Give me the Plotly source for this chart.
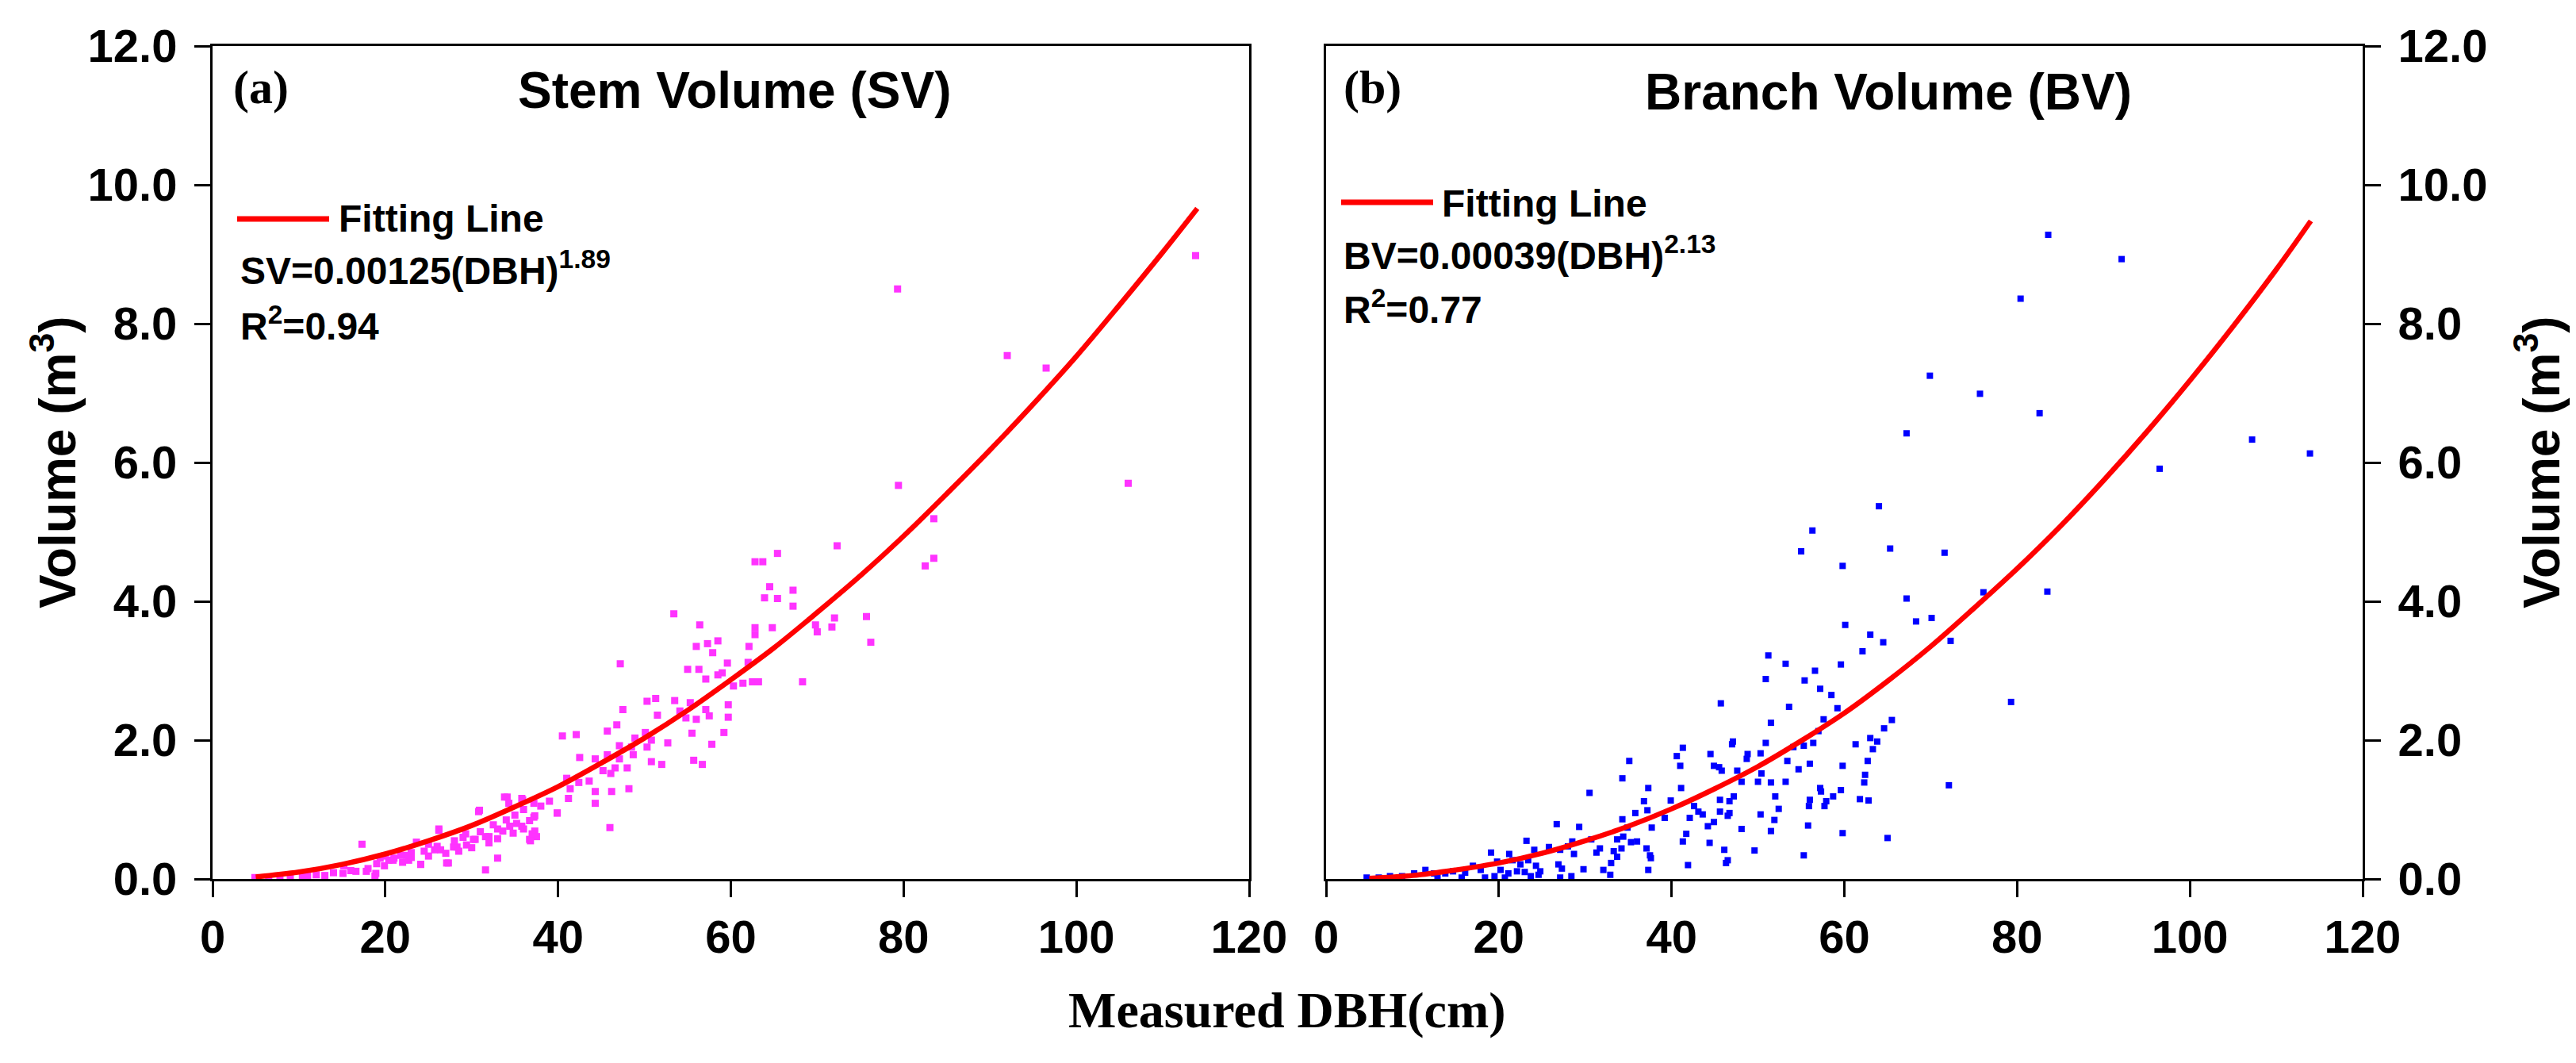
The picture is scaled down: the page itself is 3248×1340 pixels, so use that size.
import plotly.graph_objects as go

W, H = 3248, 1340

# ---------------- data ----------------
sv_dbh = [4.9, 7.8, 10.4, 13.0, 15.1, 17.8, 18.8, 19.9, 20.9, 22.5, 24.1, 25.7, 26.2, 27.3, 28.3,
          29.4, 30.9, 30.4, 32.0, 33.6, 34.1, 35.2, 35.9, 36.7, 37.3, 37.3, 36.7, 39.9,
          79.4, 83.5, 72.3, 83.5, 82.5, 65.4, 62.8, 63.7, 64.5, 67.2, 63.9, 65.4, 67.2, 53.4, 56.4,
          62.8, 64.8, 62.8, 69.8, 70.0, 72.0, 71.7, 75.7, 76.2, 56.0, 57.3, 58.5, 57.9, 62.1, 59.6,
          62.0, 47.2, 55.0, 56.3, 59.0, 58.5, 57.1, 61.4, 62.5, 63.2, 60.3, 68.3, 50.3, 51.3, 53.5,
          47.5, 55.3, 59.7, 51.5, 54.1, 54.8, 56.0, 57.1, 57.5, 59.7, 46.8, 45.7, 40.5, 42.1, 50.1,
          55.5, 59.2, 48.9, 50.8, 52.7, 57.8, 47.1, 48.5, 50.3, 48.7, 42.5, 44.3, 45.7, 47.1, 50.8,
          52.0, 55.7, 56.7, 48.0, 45.2, 46.1, 46.6, 41.0, 42.4, 43.6, 41.4, 44.3, 46.2, 48.2, 41.2,
          44.3, 33.8, 35.8, 34.3, 37.2, 30.8, 39.9, 37.2, 26.2, 46.0, 33.0, 34.4, 35.8, 37.0, 37.5,
          36.8, 29.3, 30.2, 31.6, 23.6, 25.0, 26.4, 27.9, 17.3, 33.0, 24.1, 27.1, 31.6, 19.4, 20.4,
          21.8, 22.7, 15.2, 16.6, 18.0, 18.9,
          79.3, 92.0, 96.5, 106.0, 113.8,
          21.0, 23.0, 24.5, 26.0, 28.0, 29.0, 31.0, 32.5, 34.0, 35.0, 36.0, 38.0, 39.0, 12.0, 14.0,
          16.0, 9.0, 6.5, 11.0, 19.0, 20.0, 22.0, 23.0, 25.0, 27.0, 28.5, 30.0, 32.0, 33.0, 34.8, 36.0]
sv_vol = [0.02, 0.03, 0.03, 0.05, 0.08, 0.11, 0.04, 0.19, 0.27, 0.34, 0.21, 0.42, 0.70, 0.23, 0.46,
          0.49, 0.99, 0.57, 0.61, 0.69, 1.18, 0.80, 1.14, 0.84, 0.91, 0.69, 0.57, 0.95,
          5.67, 5.19, 4.80, 4.62, 4.51, 4.69, 4.57, 4.57, 4.21, 4.16, 4.05, 4.04, 3.93, 3.82, 3.66,
          3.62, 3.62, 3.52, 3.66, 3.56, 3.76, 3.63, 3.78, 3.41, 3.35, 3.39, 3.43, 3.26, 3.35, 3.11,
          3.12, 3.10, 3.02, 3.02, 2.97, 2.94, 2.88, 2.82, 2.84, 2.84, 2.78, 2.84, 2.56, 2.60, 2.57,
          2.44, 2.54, 2.51, 2.36, 2.42, 2.32, 2.30, 2.44, 2.35, 2.33, 2.22, 2.13, 2.06, 2.08, 2.11,
          2.10, 2.11, 2.03, 2.00, 1.96, 1.94, 1.92, 1.90, 1.90, 1.79, 1.75, 1.73, 1.79, 1.73, 1.69,
          1.65, 1.71, 1.65, 1.60, 1.56, 1.52, 1.60, 1.45, 1.39, 1.41, 1.30, 1.26, 1.26, 1.30, 1.16,
          1.09, 1.18, 1.16, 1.09, 1.09, 0.97, 0.95, 0.89, 0.72, 0.74, 0.72, 0.76, 0.76, 0.65, 0.61,
          0.55, 0.65, 0.57, 0.61, 0.53, 0.50, 0.42, 0.46, 0.50, 0.30, 0.21, 0.23, 0.13, 0.30, 0.27,
          0.34, 0.27, 0.19, 0.11, 0.15, 0.08,
          8.50, 7.54, 7.36, 5.70, 8.98,
          0.30, 0.38, 0.40, 0.47, 0.55, 0.60, 0.68, 0.78, 0.85, 0.92, 1.00, 1.05, 1.12, 0.06, 0.09,
          0.12, 0.04, 0.02, 0.05, 0.22, 0.33, 0.24, 0.31, 0.33, 0.37, 0.40, 0.45, 0.52, 0.58, 0.66, 0.72]

bv_dbh = [59.8, 67.2, 68.3, 70.1, 60.1, 63.0, 64.5, 72.3, 62.1, 51.2, 53.2, 59.6, 56.6, 50.9, 55.4,
          57.2, 58.5, 45.7, 53.6, 59.2, 57.6, 51.5, 65.5, 64.6, 57.0, 47.0, 47.1, 50.9, 56.4, 55.3,
          54.1, 61.3, 63.0, 63.8, 63.3, 41.3, 40.6, 44.5, 48.8, 48.7, 50.3, 35.1, 41.0, 44.9, 45.8,
          45.5, 47.6, 53.4, 54.7, 56.0, 59.8, 62.7, 50.4, 34.3, 48.1, 50.0, 51.5, 53.2, 62.4, 62.3,
          37.3, 41.1, 30.5, 57.2, 57.3, 59.6, 58.7, 36.8, 39.9, 45.6, 46.7, 47.2, 52.0, 56.0, 55.9,
          57.9, 57.7, 61.8, 62.8, 72.1, 35.8, 37.2, 42.6, 43.1, 43.6, 45.6, 46.5, 46.7, 50.3, 52.4,
          42.1, 39.2, 34.3, 51.9, 26.7, 29.3, 34.9, 37.7, 44.2, 44.9, 48.1, 55.8, 51.5, 41.7, 41.3,
          59.8, 65.0, 23.2, 28.5, 30.7, 33.7, 34.4, 35.3, 36.0, 44.4, 46.1, 49.6, 25.8, 19.1, 21.2,
          24.1, 27.1, 28.0, 28.7, 31.7, 31.3, 33.3, 33.7, 34.2, 37.1, 37.5, 37.6, 55.3, 46.3, 46.5,
          41.9, 37.3, 33.0, 32.1, 29.8, 27.3, 26.9, 28.4, 27.1, 32.9, 19.8, 21.6, 22.5, 23.4, 24.3,
          24.8, 20.2, 21.1, 22.1, 23.0, 23.7, 24.6, 17.0, 17.9, 16.1, 14.7, 13.8, 12.5, 11.5, 10.2,
          8.8, 7.4, 6.1, 4.7, 19.5, 20.7, 18.4, 15.7, 12.9,
          83.6, 92.1, 80.4, 69.9, 75.7, 82.6, 67.2, 107.2, 113.9, 96.5, 64.0, 56.3, 55.0, 65.3, 71.6,
          76.1, 83.5, 79.3]
bv_vol = [4.51, 4.04, 3.71, 3.76, 3.66, 3.52, 3.41, 3.43, 3.28, 3.22, 3.10, 3.09, 3.00, 2.88, 2.86,
          2.74, 2.65, 2.53, 2.48, 2.46, 2.30, 2.25, 2.29, 2.17, 2.13, 1.94, 1.98, 1.96, 1.96, 1.92,
          1.90, 1.94, 2.03, 1.98, 1.87, 1.89, 1.77, 1.80, 1.80, 1.73, 1.81, 1.70, 1.63, 1.63, 1.56,
          1.61, 1.56, 1.70, 1.58, 1.66, 1.63, 1.70, 1.52, 1.45, 1.40, 1.40, 1.39, 1.40, 1.50, 1.39,
          1.31, 1.31, 1.24, 1.31, 1.26, 1.28, 1.19, 1.12, 1.13, 1.14, 1.12, 1.19, 1.19, 1.14, 1.05,
          1.12, 1.05, 1.15, 1.13, 1.35, 0.95, 0.99, 1.05, 0.97, 0.93, 0.97, 0.91, 0.95, 0.93, 1.01,
          0.88, 0.88, 0.86, 0.85, 0.79, 0.75, 0.74, 0.74, 0.76, 0.82, 0.72, 0.77, 0.69, 0.65, 0.54,
          0.66, 0.59, 0.55, 0.54, 0.57, 0.57, 0.61, 0.53, 0.54, 0.52, 0.42, 0.41, 0.46, 0.38, 0.36,
          0.42, 0.42, 0.47, 0.36, 0.44, 0.38, 0.40, 0.32, 0.44, 0.44, 0.34, 0.30, 0.34, 0.23, 0.27,
          0.20, 0.13, 0.23, 0.13, 0.14, 0.15, 0.21, 0.04, 0.02, 0.06, 0.25, 0.27, 0.21, 0.27, 0.19,
          0.11, 0.13, 0.08, 0.11, 0.10, 0.04, 0.06, 0.19, 0.13, 0.09, 0.11, 0.08, 0.08, 0.13, 0.08,
          0.04, 0.04, 0.02, 0.02, 0.04, 0.02, 0.02, 0.02, 0.02,
          9.28, 8.93, 8.36, 7.25, 6.99, 6.71, 6.42, 6.33, 6.13, 5.91, 5.37, 5.02, 4.72, 4.76, 4.70,
          4.13, 4.14, 2.55]

# fitting lines
fit_dbh = [5, 10, 15, 20, 25, 30, 35, 40, 45, 50, 55, 60, 65, 70, 75, 80, 85, 90, 95, 100, 105, 110, 114]
sv_fit = [0.03, 0.10, 0.21, 0.36, 0.55, 0.77, 1.04, 1.33, 1.67, 2.03, 2.43, 2.87, 3.33, 3.84, 4.37,
          4.94, 5.55, 6.18, 6.84, 7.53, 8.27, 9.03, 9.66]
bv_fit = [0.01, 0.05, 0.13, 0.23, 0.37, 0.55, 0.76, 1.01, 1.30, 1.62, 1.99, 2.39, 2.85, 3.35, 3.90,
          4.47, 5.08, 5.74, 6.44, 7.18, 7.96, 8.78, 9.48]

x_ticks = [0, 20, 40, 60, 80, 100, 120]
y_ticks = [0, 2, 4, 6, 8, 10, 12]

# ---------------- figure ----------------
def px_x(p):
    return p / W

def px_y(p):
    return 1 - p / H

SANS = "Liberation Sans, Arial"
SERIF = "Liberation Serif, Times New Roman"

fig = go.Figure()
fig.add_trace(go.Scatter(x=sv_dbh, y=sv_vol, mode="markers", xaxis="x", yaxis="y",
                         marker=dict(symbol="square", size=9, color="#FF33FF", line=dict(width=0)),
                         showlegend=False))
fig.add_trace(go.Scatter(x=fit_dbh, y=sv_fit, mode="lines", xaxis="x", yaxis="y",
                         line=dict(color="#FF0000", width=6.5, shape="spline"), showlegend=False))
fig.add_trace(go.Scatter(x=bv_dbh, y=bv_vol, mode="markers", xaxis="x2", yaxis="y2",
                         marker=dict(symbol="square", size=8, color="#0000FF", line=dict(width=0)),
                         showlegend=False))
fig.add_trace(go.Scatter(x=fit_dbh, y=bv_fit, mode="lines", xaxis="x2", yaxis="y2",
                         line=dict(color="#FF0000", width=6.5, shape="spline"), showlegend=False))

ydom = [px_y(1100), px_y(50)]
tickfont = dict(family=SANS, size=58, color="black", weight="bold")
common_x = dict(range=[0, 120], tickmode="array", tickvals=x_ticks, ticks="outside", ticklen=20,
                tickwidth=3, tickcolor="black", showline=True, linewidth=3, linecolor="black",
                mirror=True, showgrid=False, zeroline=False, tickfont=tickfont, automargin=False)
common_y = dict(range=[0, 12], tickmode="array", tickvals=y_ticks, tickformat=".1f", ticks="outside",
                ticklen=20, tickwidth=3, tickcolor="black", showline=True, linewidth=3,
                linecolor="black", mirror=True, showgrid=False, zeroline=False, tickfont=tickfont,
                automargin=False, ticklabelstandoff=10)

fig.update_layout(
    width=W, height=H, template="none",
    paper_bgcolor="white", plot_bgcolor="white",
    margin=dict(l=0, r=0, t=0, b=0),
    showlegend=False,
    xaxis=dict(domain=[px_x(260), px_x(1567)], anchor="y", **common_x),
    yaxis=dict(domain=ydom, anchor="x", side="left", **common_y),
    xaxis2=dict(domain=[px_x(1664), px_x(2971)], anchor="y2", **common_x),
    yaxis2=dict(domain=ydom, anchor="x2", side="right", **common_y),
)

# legend samples (red line) as shapes in paper coordinates
for x0, x1, yy in [(291, 407, 268), (1683, 1799, 247)]:
    fig.add_shape(type="line", xref="paper", yref="paper", x0=px_x(x0), x1=px_x(x1),
                  y0=px_y(yy), y1=px_y(yy), line=dict(color="#FF0000", width=7))

def ann(text, x, y, size, family=SANS, xanchor="left", angle=0):
    fig.add_annotation(text="<b>" + text + "</b>", x=px_x(x), y=px_y(y), xref="paper", yref="paper",
                       xanchor=xanchor, yanchor="middle", showarrow=False, textangle=angle,
                       font=dict(family=family, size=size, color="black"))

# panel labels and titles
ann("(a)", 284, 102, 60, family=SERIF)
ann("(b)", 1684, 102, 60, family=SERIF)
ann("Stem Volume (SV)", 918, 106, 64, xanchor="center")
ann("Branch Volume (BV)", 2373, 108, 64, xanchor="center")

# legend text / equations
ann("Fitting Line", 417, 268, 48)
ann("SV=0.00125(DBH)<sup>1.89</sup>", 293, 330, 48)
ann("R<sup>2</sup>=0.94", 293, 400, 48)
ann("Fitting Line", 1808, 248, 48)
ann("BV=0.00039(DBH)<sup>2.13</sup>", 1684, 311, 48)
ann("R<sup>2</sup>=0.77", 1684, 379, 48)

# axis titles
ann("Volume (m<sup>3</sup>)", 60, 575, 64, xanchor="center", angle=-90)
ann("Volume (m<sup>3</sup>)", 3192, 575, 64, xanchor="center", angle=-90)
ann("Measured DBH(cm)", 1615, 1265, 64, family=SERIF, xanchor="center")

fig.write_html("out.html")
